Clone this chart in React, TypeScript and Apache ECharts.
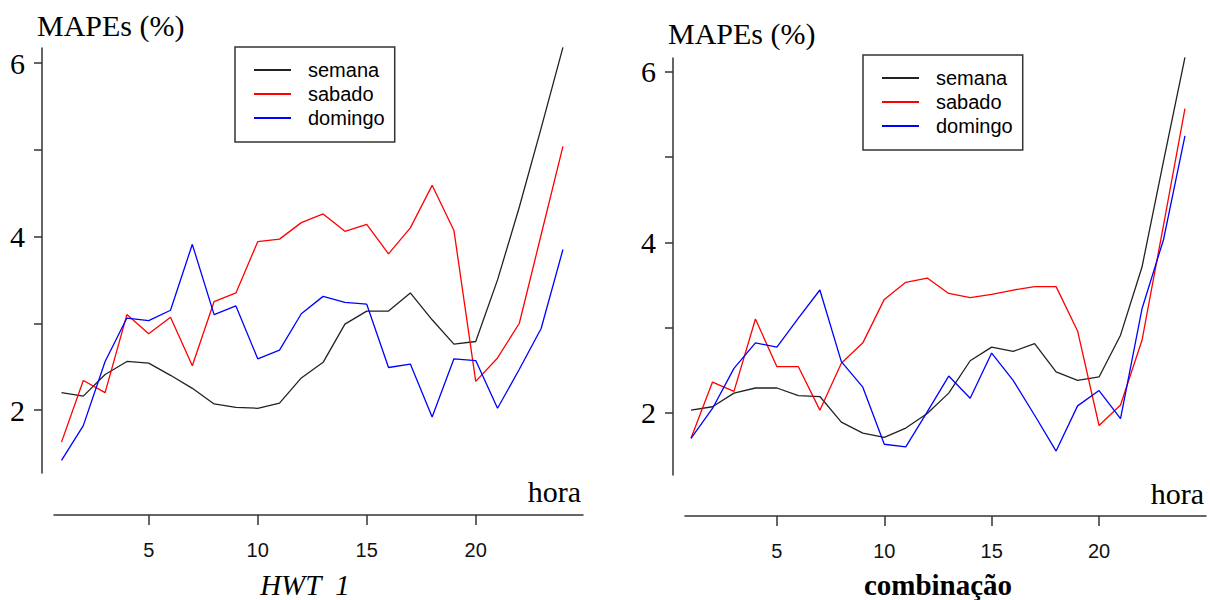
import React, { useEffect, useRef } from "react";
import * as echarts from "echarts";

const hours = [1, 2, 3, 4, 5, 6, 7, 8, 9, 10, 11, 12, 13, 14, 15, 16, 17, 18, 19, 20, 21, 22, 23, 24];

// HWT 1 (left panel)
const hwtSemana = [2.20, 2.16, 2.41, 2.56, 2.54, 2.40, 2.25, 2.07, 2.03, 2.02, 2.08, 2.37, 2.55, 2.99, 3.14, 3.14, 3.35, 3.04, 2.76, 2.79, 3.50, 4.34, 5.25, 6.18];
const hwtSabado = [1.63, 2.34, 2.20, 3.10, 2.88, 3.07, 2.51, 3.25, 3.35, 3.94, 3.97, 4.16, 4.26, 4.06, 4.14, 3.80, 4.10, 4.59, 4.07, 2.33, 2.60, 3.00, 4.02, 5.04];
const hwtDomingo = [1.42, 1.82, 2.56, 3.06, 3.03, 3.15, 3.91, 3.10, 3.20, 2.59, 2.69, 3.11, 3.31, 3.24, 3.22, 2.49, 2.53, 1.92, 2.59, 2.57, 2.02, 2.47, 2.94, 3.85];

// combinação (right panel)
const combSemana = [2.03, 2.07, 2.23, 2.29, 2.29, 2.20, 2.19, 1.89, 1.76, 1.71, 1.82, 1.99, 2.23, 2.61, 2.77, 2.72, 2.81, 2.48, 2.38, 2.42, 2.91, 3.71, 4.95, 6.17];
const combSabado = [1.70, 2.36, 2.25, 3.10, 2.54, 2.54, 2.03, 2.58, 2.82, 3.33, 3.53, 3.58, 3.40, 3.35, 3.39, 3.44, 3.48, 3.48, 2.96, 1.85, 2.09, 2.85, 4.20, 5.57];
const combDomingo = [1.70, 2.05, 2.52, 2.82, 2.77, 3.11, 3.44, 2.60, 2.30, 1.63, 1.60, 2.01, 2.43, 2.17, 2.70, 2.38, 1.97, 1.55, 2.08, 2.26, 1.93, 3.22, 4.03, 5.25];

const seriesNames = ["semana", "sabado", "domingo"];
const seriesColors = ["#222222", "#ff0000", "#0000ff"];
const xTicks = [5, 10, 15, 20];
const yTicks = [2, 3, 4, 5, 6];
const yLabels = [2, 4, 6];
const yTitle = "MAPEs (%)";
const xTitle = "hora";
const panelTitles = ["HWT  1", "combinação"];

const SERIF = "'Liberation Serif', 'Times New Roman', serif";
const SANS = "'Liberation Sans', Arial, sans-serif";

function pairs(vals: number[]) {
  return hours.map((h, i) => [h, vals[i]]);
}

export default function App() {
  const ref = useRef<HTMLDivElement>(null);

  useEffect(() => {
    if (!ref.current) return;
    const chart = echarts.init(ref.current, undefined, { renderer: "svg" });

    const axisLineStyle = { color: "#333", width: 1.5 };

    const mkX = (gridIndex: number, min: number, max: number, offset: number) => ({
      type: "value",
      gridIndex,
      min,
      max,
      offset,
      axisLine: { show: true, lineStyle: axisLineStyle },
      axisTick: { show: true, customValues: xTicks, length: 10, lineStyle: axisLineStyle },
      axisLabel: {
        customValues: xTicks,
        margin: 25,
        fontFamily: SANS,
        fontSize: 20,
        color: "#111",
      },
      splitLine: { show: false },
    });

    const mkY = (gridIndex: number, min: number, max: number) => ({
      type: "value",
      gridIndex,
      min,
      max,
      offset: 12,
      axisLine: { show: true, lineStyle: axisLineStyle },
      axisTick: { show: true, customValues: yTicks, length: 8, lineStyle: axisLineStyle },
      axisLabel: {
        customValues: yLabels,
        margin: 17,
        fontFamily: SERIF,
        fontSize: 30,
        color: "#000",
      },
      splitLine: { show: false },
    });

    const mkSeries = (name: string, color: string, vals: number[], idx: number) => ({
      type: "line",
      name,
      xAxisIndex: idx,
      yAxisIndex: idx,
      data: pairs(vals),
      symbol: "none",
      clip: false,
      lineStyle: { color, width: 1.3 },
      itemStyle: { color },
    });

    const mkLegend = (left: number, top: number) => ({
      orient: "vertical",
      left,
      top,
      data: seriesNames,
      icon: "rect",
      itemWidth: 37,
      itemHeight: 2,
      itemGap: 4,
      padding: [13, 10, 14, 19],
      borderColor: "#333",
      borderWidth: 1.5,
      selectedMode: false,
      textStyle: {
        fontFamily: SANS,
        fontSize: 20,
        color: "#000",
        padding: [0, 0, 0, 12],
        lineHeight: 20,
      },
    });

    const txt = (x: number, y: number, text: string, font: any, align: string) => ({
      type: "text",
      x,
      y,
      silent: true,
      style: {
        text,
        fill: "#000",
        ...font,
        textAlign: align,
        textVerticalAlign: "middle",
        align,
        verticalAlign: "middle",
      },
    });

    const option: any = {
      animation: false,
      backgroundColor: "#ffffff",
      grid: [
        { left: 54, top: 48, width: 529, height: 425 },
        { left: 685, top: 58, width: 521, height: 417 },
      ],
      xAxis: [mkX(0, 0.656, 24.92, 42), mkX(1, 0.72, 24.98, 41)],
      yAxis: [mkY(0, 1.274, 6.173), mkY(1, 1.269, 6.163)],
      legend: [mkLegend(235, 47), mkLegend(863, 55)],
      series: [
        mkSeries(seriesNames[0], seriesColors[0], hwtSemana, 0),
        mkSeries(seriesNames[1], seriesColors[1], hwtSabado, 0),
        mkSeries(seriesNames[2], seriesColors[2], hwtDomingo, 0),
        mkSeries(seriesNames[0], seriesColors[0], combSemana, 1),
        mkSeries(seriesNames[1], seriesColors[1], combSabado, 1),
        mkSeries(seriesNames[2], seriesColors[2], combDomingo, 1),
      ],
      graphic: [
        txt(37, 25, yTitle, { fontFamily: SERIF, fontSize: 30 }, "left"),
        txt(668, 33, yTitle, { fontFamily: SERIF, fontSize: 30 }, "left"),
        txt(581, 491, xTitle, { fontFamily: SERIF, fontSize: 30 }, "right"),
        txt(1204, 493, xTitle, { fontFamily: SERIF, fontSize: 30 }, "right"),
        txt(305, 585, panelTitles[0], { fontFamily: SERIF, fontSize: 29, fontStyle: "italic" }, "center"),
        txt(938, 585, panelTitles[1], { fontFamily: SERIF, fontSize: 29, fontWeight: "bold" }, "center"),
      ],
    };

    chart.setOption(option);
    return () => chart.dispose();
  }, []);

  return (
    <div
      ref={ref}
      style={{ position: "fixed", left: 0, top: 0, width: 1210, height: 600, background: "#fff" }}
    />
  );
}
